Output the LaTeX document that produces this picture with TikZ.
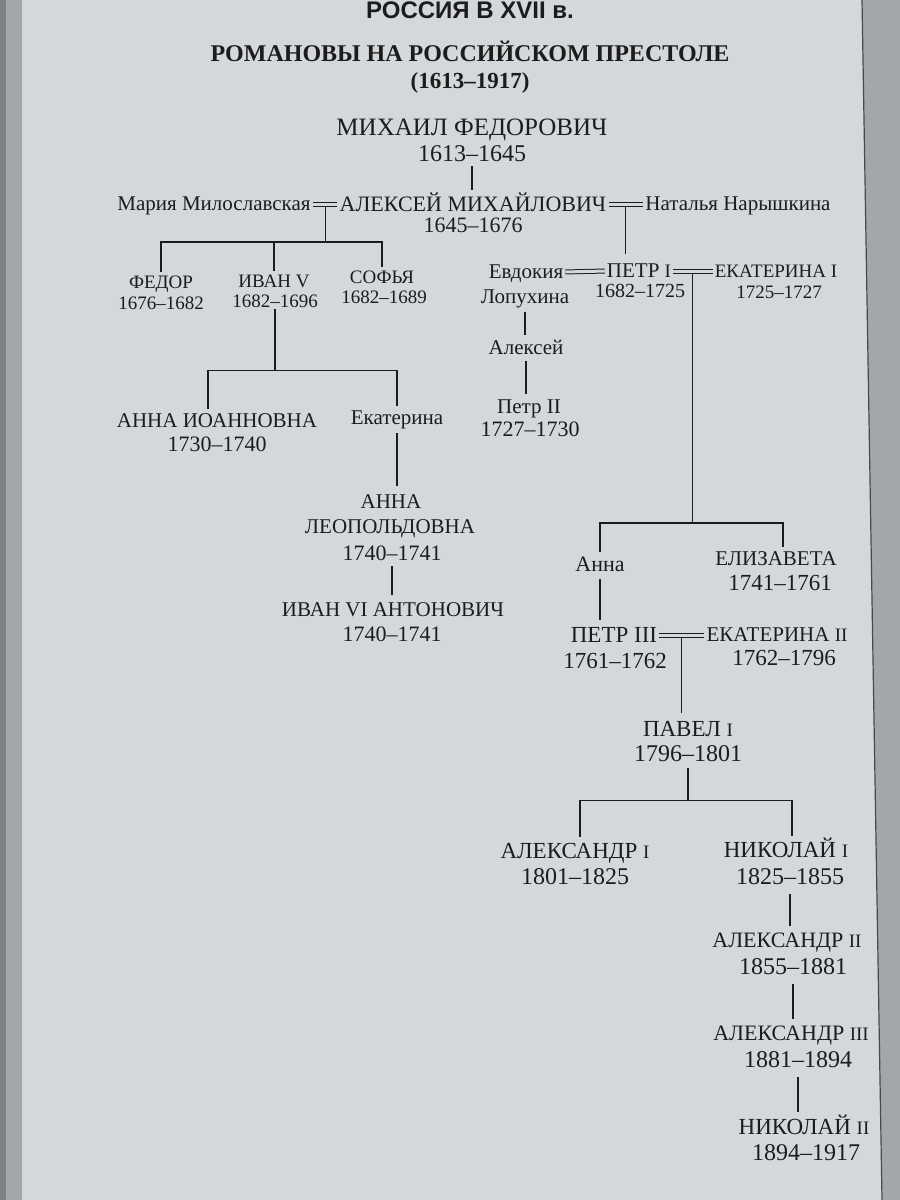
\documentclass[tikz,border=0pt]{standalone}
\usepackage{fontspec}
\setmainfont{Liberation Serif}
\newfontfamily\headsans{Liberation Sans}
\usetikzlibrary{positioning}
\definecolor{pagegray}{HTML}{D4D8DB}
\definecolor{inkgray}{HTML}{1C1C1C}
\definecolor{edgegray}{HTML}{A3A7AA}
\definecolor{margingray}{HTML}{7E8285}
\newcommand{\rn}[1]{{\fontsize{19}{19}\selectfont #1}}
\tikzset{
    tsar/.style={font=\fontsize{#1}{#1}\selectfont,text=inkgray,inner sep=0pt,
        text height={#1*0.66pt},text depth=0pt},
    tsar/.default=22,
    kin/.style={tsar=#1},
    kin/.default=21,
    reign/.style={tsar=#1},
    reign/.default=22,
    link/.style={draw=inkgray,line width=1.1pt,shorten <=5pt,shorten >=5pt},
    wed/.style={draw=inkgray,line width=1pt,double=pagegray,double distance=3pt,
        shorten <=2pt,shorten >=2pt},
}

\begin{document}
\begin{tikzpicture}[x=1pt,y=-1pt]
    \useasboundingbox (0,0) rectangle (900,1200);
    % the page
    \fill[pagegray] (0,0) rectangle (900,1200);
    \fill[edgegray] (0,0) rectangle (22,1200);
    \fill[margingray] (0,0) rectangle (6,1200);
    \fill[edgegray] (862,0) -- (900,0) -- (900,1200) -- (882,1200) -- cycle;
    \draw[inkgray!80,line width=1.2pt] (862,0) -- (882,1200);

    % headings
    \node[font=\headsans\bfseries\fontsize{24}{24}\selectfont,text=inkgray,anchor=base] (head) at (470,18) {РОССИЯ В XVII в.};
    \node[font=\bfseries\fontsize{24}{24}\selectfont,text=inkgray,anchor=base] (title) at (470,61) {РОМАНОВЫ НА РОССИЙСКОМ ПРЕСТОЛЕ};
    \node[font=\bfseries\fontsize{23}{23}\selectfont,text=inkgray,anchor=base] (span) at (470,88) {(1613–1917)};

    % Михаил and Алексей
    \node[tsar=25] (mf) at (472,127) {МИХАИЛ ФЕДОРОВИЧ};
    \node[reign=24] (mf-y) at (472,154) {1613–1645};
    \node[tsar=22] (alm) at (473,204) {АЛЕКСЕЙ МИХАЙЛОВИЧ};
    \node[reign=22] (alm-y) at (473,225) {1645–1676};
    \node[kin=21] (mm) at (214,204) {Мария Милославская};
    \node[kin=21] (nn) at (738,204) {Наталья Нарышкина};

    % children of the first marriage
    \node[tsar=19] (fed) at (161,282) {ФЕДОР};
    \node[reign=19] (fed-y) at (161,303) {1676–1682};
    \node[tsar=19] (iv5) at (274,281) {ИВАН V};
    \node[reign=19] (iv5-y) at (275,301) {1682–1696};
    \node[tsar=19] (sof) at (382,277) {СОФЬЯ};
    \node[reign=19] (sof-y) at (384,297) {1682–1689};

    \node[tsar=21] (annaio) at (217,421) {АННА ИОАННОВНА};
    \node[reign=22] (annaio-y) at (217,444) {1730–1740};
    \node[kin=21] (ekat) at (397,418) {Екатерина};
    \node[tsar=21] (al-1) at (391,502) {АННА};
    \node[tsar=21] (al-2) at (390,527) {ЛЕОПОЛЬДОВНА};
    \node[reign=22] (al-y) at (392,553) {1740–1741};
    \node[tsar=21] (iv6) at (393,610) {ИВАН VI АНТОНОВИЧ};
    \node[reign=22] (iv6-y) at (392,634) {1740–1741};

    % Петр I
    \node[kin=21] (evd) at (526,272) {Евдокия};
    \node[kin=21] (lop) at (525,297) {Лопухина};
    \node[tsar=21] (p1) at (639,271) {ПЕТР \rn{I}};
    \node[reign=20] (p1-y) at (640,291) {1682–1725};
    \node[tsar=19] (ek1) at (776,271) {ЕКАТЕРИНА \rn{I}};
    \node[reign=19] (ek1-y) at (779,292) {1725–1727};
    \node[kin=21] (alx) at (526,348) {Алексей};
    \node[kin=21] (p2) at (529,407) {Петр II};
    \node[reign=22] (p2-y) at (530,429) {1727–1730};

    \node[kin=22] (anna) at (600,564) {Анна};
    \node[tsar=21] (eliz) at (776,559) {ЕЛИЗАВЕТА};
    \node[reign=23] (eliz-y) at (780,583) {1741–1761};
    \node[tsar=23] (p3) at (614,635) {ПЕТР III};
    \node[reign=23] (p3-y) at (615,661) {1761–1762};
    \node[tsar=21] (ek2) at (777,635) {ЕКАТЕРИНА \rn{II}};
    \node[reign=23] (ek2-y) at (784,658) {1762–1796};
    \node[tsar=23] (pav) at (688,729) {ПАВЕЛ \rn{I}};
    \node[reign=24] (pav-y) at (688,754) {1796–1801};

    \node[tsar=23] (a1) at (575,851) {АЛЕКСАНДР \rn{I}};
    \node[reign=24] (a1-y) at (575,877) {1801–1825};
    \node[tsar=23] (n1) at (786,850) {НИКОЛАЙ \rn{I}};
    \node[reign=24] (n1-y) at (790,877) {1825–1855};
    \node[tsar=22] (a2) at (787,940) {АЛЕКСАНДР \rn{II}};
    \node[reign=24] (a2-y) at (793,967) {1855–1881};
    \node[tsar=22] (a3) at (791,1033) {АЛЕКСАНДР \rn{III}};
    \node[reign=24] (a3-y) at (798,1060) {1881–1894};
    \node[tsar=23] (n2) at (804,1127) {НИКОЛАЙ \rn{II}};
    \node[reign=24] (n2-y) at (806,1153) {1894–1917};

    % marriages
    \draw[wed] (mm.east) -- coordinate (w1) (alm.west);
    \draw[wed] (alm.east) -- coordinate (w2) (nn.west);
    \draw[wed] (evd.east) -- coordinate (w3) (p1.west);
    \draw[wed] (p1.east) -- coordinate (w4) (ek1.west);
    \draw[wed] (p3.east) -- coordinate (w5) (ek2.west);

    \coordinate[below=38pt of w1] (fork1);
    \coordinate[below=63pt of iv5-y] (fork2);
    \coordinate[below=252pt of w4] (fork3);
    \coordinate[below=38pt of pav-y] (fork4);

    % descent
    \draw[link,shorten <=4pt,shorten >=7pt] (mf-y.south) -- (mf-y.south |- alm.north);
    \draw[link,shorten <=2pt,shorten >=0pt] (w1) -- (fork1);
    \draw[link,shorten <=4pt,shorten >=4pt] (fed.north) |- (fork1) -| (sof.north);
    \draw[link,shorten <=0pt,shorten >=4pt] (fork1 -| iv5.north) -- (iv5.north);
    \draw[link,shorten <=2pt,shorten >=0pt] (iv5-y.south) -- (fork2);
    \draw[link,shorten <=5pt,shorten >=5pt] ([xshift=-9pt]annaio.north) |- (fork2) -| (ekat.north);
    \draw[link,shorten <=8pt,shorten >=9pt] (ekat.south) -- (ekat.south |- al-1.north);
    \draw[link,shorten <=6pt,shorten >=8pt] (al-y.south) -- (al-y.south |- iv6.north);

    \draw[link,shorten <=2pt,shorten >=10pt] (w2) -- (w2 |- p1.north);
    \draw[link,shorten <=8pt,shorten >=6pt] (lop.south) -- (lop.south |- alx.north);
    \draw[link,shorten <=6pt,shorten >=6pt] (alx.south) -- (alx.south |- p2.north);
    \draw[link,shorten <=2pt,shorten >=0pt] (w4) -- (fork3);
    \draw[link,shorten <=5pt,shorten >=5pt] (anna.north) |- (fork3) -| ([xshift=7pt]eliz.north);
    \draw[link,shorten <=8pt,shorten >=7pt] (anna.south) -- (anna.south |- p3.north);
    \draw[link,shorten <=2pt,shorten >=8pt] (w5) -- (w5 |- pav.north);
    \draw[link,shorten <=6pt,shorten >=0pt] (pav-y.south) -- (fork4);
    \draw[link,shorten <=6pt,shorten >=6pt] ([xshift=5pt]a1.north) |- (fork4) -| ([xshift=6pt]n1.north);
    \draw[link,shorten <=9pt,shorten >=7pt] (n1-y.south) -- (n1-y.south |- a2.north);
    \draw[link,shorten <=9pt,shorten >=7pt] (a2-y.south) -- (a2-y.south |- a3.north);
    \draw[link,shorten <=9pt,shorten >=7pt] (a3-y.south) -- (a3-y.south |- n2.north);
\end{tikzpicture}
\end{document}
